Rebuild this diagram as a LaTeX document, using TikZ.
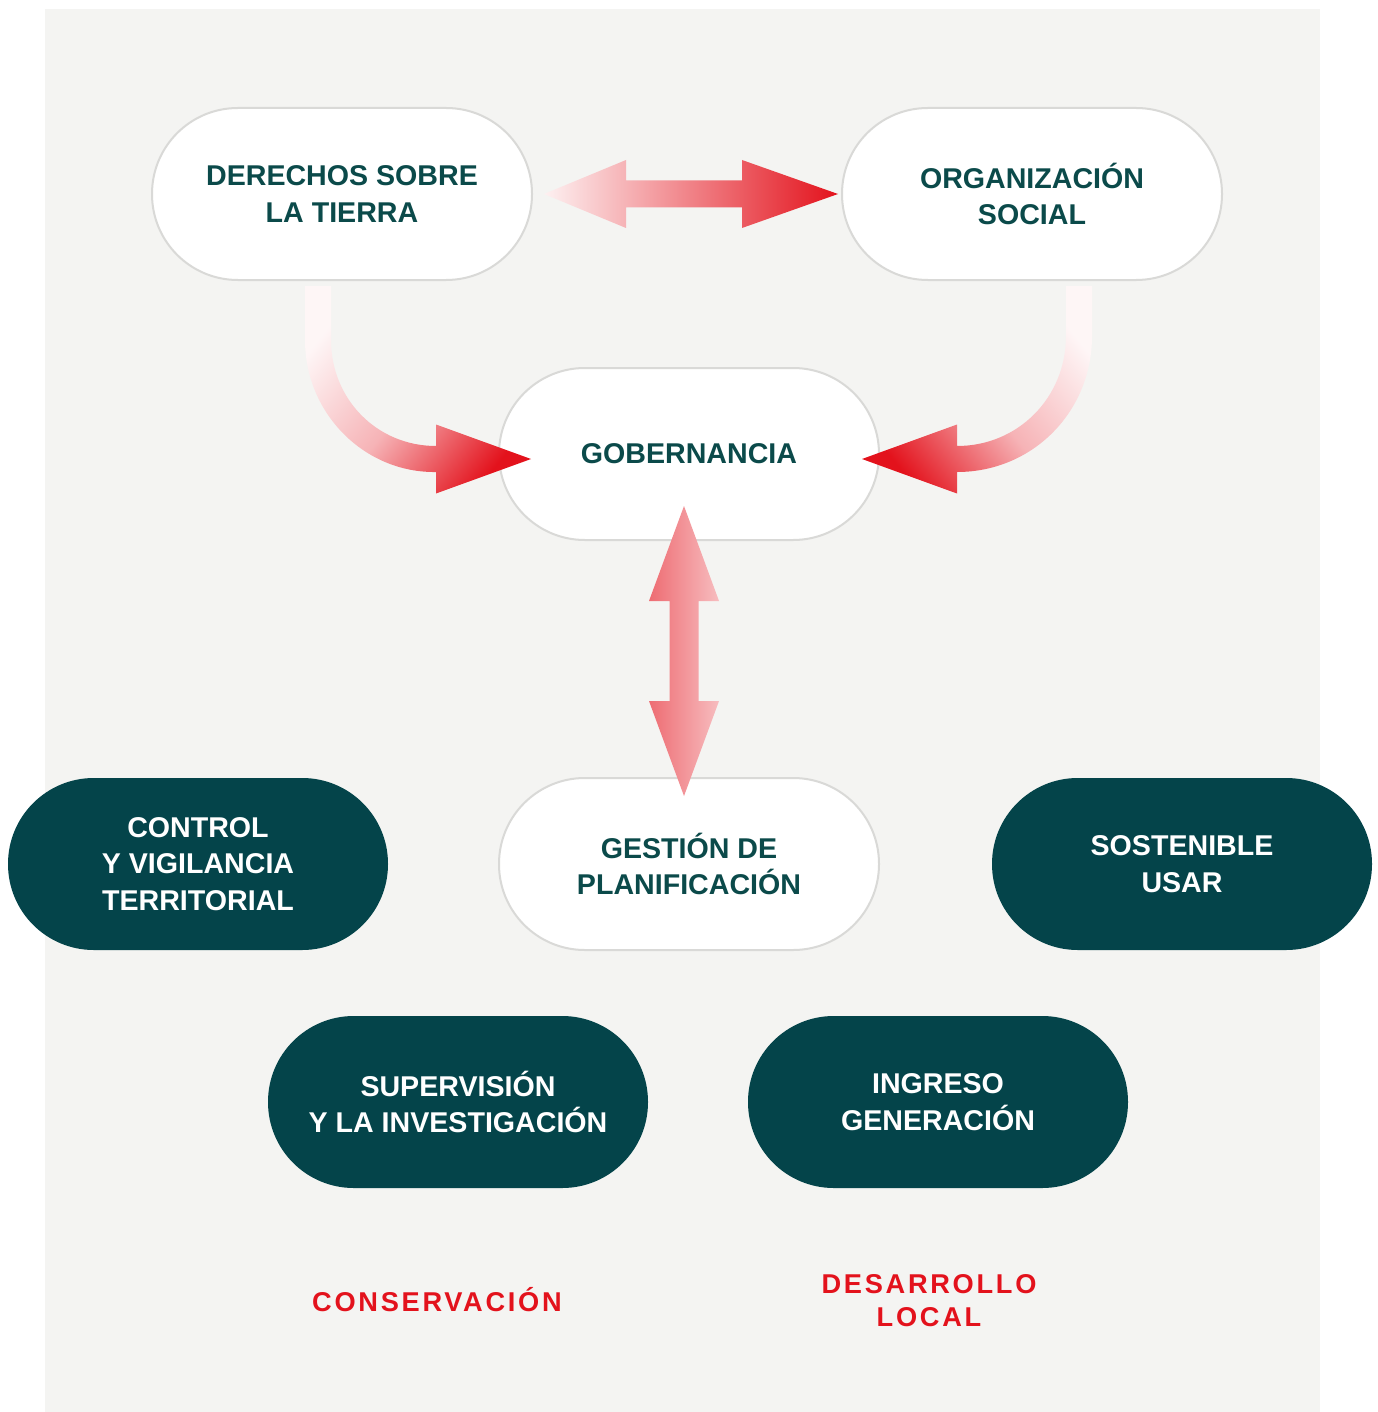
\documentclass[tikz,border=0pt]{standalone}
\usepackage{fontspec}
\setmainfont{Liberation Sans}
\newfontfamily\spaced[LetterSpace=10]{Liberation Sans}
\usetikzlibrary{calc}
\definecolor{panel}{HTML}{F4F4F2}
\definecolor{deepteal}{HTML}{04444A}
\definecolor{ink}{HTML}{0B4A4A}
\definecolor{signal}{HTML}{E3121C}
\definecolor{rim}{HTML}{D9D9D7}
\begin{document}
\begin{tikzpicture}[x=0.5pt,y=-0.5pt,
  pill/.style={rounded corners=42.9pt, minimum width=190pt, minimum height=86pt,
    align=center, inner sep=0pt, font=\bfseries\fontsize{14.3}{18.4}\selectfont},
  lightpill/.style={pill, fill=white, draw=rim, line width=1pt, text=ink},
  darkpill/.style={pill, fill=deepteal, text=white},
  tag/.style={align=center, text=signal, font=\spaced\bfseries\fontsize{13.6}{16.5}\selectfont}]

% canvas and panel
\useasboundingbox (0,0) rectangle (1377,1412);
\fill[white] (0,0) rectangle (1377,1412);
\fill[panel] (45,9) rectangle (1320,1412);

% nodes
\node[lightpill] (der) at (342,194) {DERECHOS SOBRE\\LA TIERRA};
\node[lightpill] (org) at (1032,194) {ORGANIZACIÓN\\SOCIAL};
\node[lightpill] (gob) at (689,454) {GOBERNANCIA};
\node[lightpill] (ges) at (689,864) {GESTIÓN DE\\PLANIFICACIÓN};
\node[darkpill] (ctrl) at (198,864) {CONTROL\\Y VIGILANCIA\\TERRITORIAL};
\node[darkpill] (sost) at (1182,864) {SOSTENIBLE\\USAR};
\node[darkpill] (sup) at (458,1102) {SUPERVISIÓN\\Y LA INVESTIGACIÓN};
\node[darkpill] (ing) at (938,1102) {INGRESO\\GENERACIÓN};
\node[tag] (cons) at (437,1300) {CONSERVACIÓN};
\node[tag] (desa) at (929,1301) {DESARROLLO\\LOCAL};

% horizontal double arrow between the two upper pills
\coordinate (hL) at ($(der.east)+(11,0)$);
\coordinate (hR) at ($(org.west)+(-3,0)$);
\shade[left color=signal!6!white, middle color=signal!52!white, right color=signal]
  (hL) -- ($(hL)+(82,-34)$) -- ($(hL)+(82,-13.5)$) -- ($(hR)+(-96,-13.5)$)
  -- ($(hR)+(-96,-34)$) -- (hR) -- ($(hR)+(-96,34)$) -- ($(hR)+(-96,13.5)$)
  -- ($(hL)+(82,13.5)$) -- ($(hL)+(82,34)$) -- cycle;

% curved arrow into GOBERNANCIA from the left
\coordinate (cLs) at ($(der.south)+(-24,5)$);
\coordinate (cLt) at ($(gob.west)+(33,5)$);
\shade[top color=signal!4!white, bottom color=signal, middle color=signal!32!white, shading angle=51]
  ($(cLs)+(-13,0)$) -- ($(cLs)+(-13,54)$)
  .. controls ($(cLs)+(-13,127.5)$) and ($(cLs)+(46.5,187)$) .. ($(cLt)+(-95,13)$)
  -- ($(cLt)+(-95,34.5)$) -- (cLt) -- ($(cLt)+(-95,-34.5)$) -- ($(cLt)+(-95,-13)$)
  .. controls ($(cLt)+(-154.1,-13)$) and ($(cLs)+(13,113.1)$) .. ($(cLs)+(13,54)$)
  -- ($(cLs)+(13,0)$) -- cycle;

% curved arrow into GOBERNANCIA from the right
\coordinate (cRs) at ($(org.south)+(47,5)$);
\coordinate (cRt) at ($(gob.east)+(-18,5)$);
\shade[top color=signal!4!white, bottom color=signal, middle color=signal!32!white, shading angle=-51]
  ($(cRs)+(13,0)$) -- ($(cRs)+(13,50)$)
  .. controls ($(cRs)+(13,125.7)$) and ($(cRt)+(170.7,13)$) .. ($(cRt)+(95,13)$)
  -- ($(cRt)+(95,34.5)$) -- (cRt) -- ($(cRt)+(95,-34.5)$) -- ($(cRt)+(95,-13)$)
  .. controls ($(cRt)+(156.3,-13)$) and ($(cRs)+(-13,111.3)$) .. ($(cRs)+(-13,50)$)
  -- ($(cRs)+(-13,0)$) -- cycle;

% vertical double arrow between GOBERNANCIA and GESTIÓN
\coordinate (vT) at ($(gob.south)+(-5,-35)$);
\coordinate (vB) at ($(ges.north)+(-5,19)$);
\shade[left color=signal!62!white, right color=signal!28!white]
  (vT) -- ($(vT)+(35,95)$) -- ($(vT)+(14.5,95)$) -- ($(vB)+(14.5,-95)$)
  -- ($(vB)+(35,-95)$) -- (vB) -- ($(vB)+(-35,-95)$) -- ($(vB)+(-14.5,-95)$)
  -- ($(vT)+(-14.5,95)$) -- ($(vT)+(-35,95)$) -- cycle;

\end{tikzpicture}
\end{document}
